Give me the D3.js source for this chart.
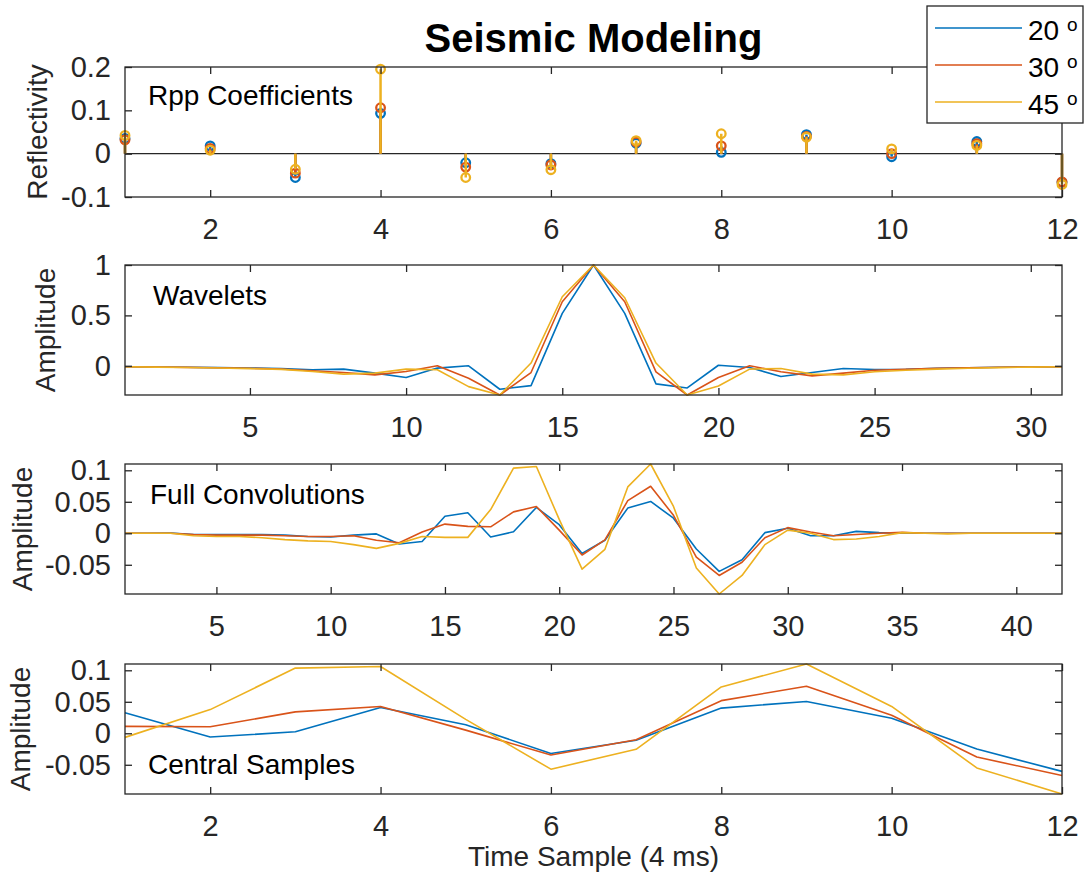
<!DOCTYPE html>
<meta charset="utf-8">
<script src="https://d3js.org/d3.v7.min.js"></script>
<style>
  body { margin: 0; background: #fff; }
  svg text { font-family: "Liberation Sans", Arial, Helvetica, sans-serif; }
</style>
<div id="chart"></div>
<script>

// incidence angles and MATLAB default colours
var angles = ["20", "30", "45"];
var colors = ["#0072BD", "#D95319", "#EDB120"];

// Rpp reflection coefficients, samples 1..12
var rpp20 = [0.035, 0.018, -0.055, 0.093, -0.021, -0.023, 0.024, 0.003, 0.044, -0.007, 0.028, -0.066];
var rpp30 = [0.032, 0.012, -0.045, 0.106, -0.031, -0.026, 0.027, 0.018, 0.040, 0.000, 0.023, -0.065];
var rpp45 = [0.042, 0.008, -0.036, 0.195, -0.055, -0.037, 0.030, 0.046, 0.038, 0.011, 0.019, -0.071];

// wavelets, samples 1..31
var wav20 = [-0.01, -0.012, -0.015, -0.018, -0.022, -0.028, -0.04, -0.033, -0.073, -0.117, -0.023, 0.0, -0.233, -0.197, 0.52, 1.0,
             0.52, -0.18, -0.22, 0.005, -0.017, -0.107, -0.067, -0.027, -0.037, -0.035, -0.025, -0.02, -0.015, -0.012, -0.01];
var wav30 = [-0.01, -0.012, -0.016, -0.02, -0.025, -0.032, -0.05, -0.067, -0.09, -0.057, 0.0, -0.123, -0.29, -0.067, 0.635, 1.0,
             0.635, -0.06, -0.29, -0.117, 0.0, -0.06, -0.1, -0.073, -0.045, -0.035, -0.025, -0.02, -0.015, -0.012, -0.01];
var wav45 = [-0.01, -0.013, -0.017, -0.022, -0.028, -0.036, -0.057, -0.083, -0.073, -0.033, -0.04, -0.207, -0.29, 0.027, 0.685, 1.0,
             0.675, 0.027, -0.29, -0.2, -0.033, -0.027, -0.083, -0.09, -0.06, -0.045, -0.033, -0.025, -0.018, -0.013, -0.01];

// full convolutions, samples 1..42
var conv20 = [0, 0, 0.0005, -0.002, -0.002, -0.002, -0.002, -0.003, -0.005, -0.006, -0.003, -0.001, -0.017, -0.013, 0.027,
              0.0325, -0.006, 0.0024, 0.041, 0.0136, -0.032, -0.011, 0.040, 0.0505, 0.024, -0.025, -0.0605,
              -0.042, 0.001, 0.008, -0.004, -0.004, 0.003, 0.001, 0, 0, 0, 0, 0, 0, 0, 0];
var conv30 = [0, 0, 0, -0.002, -0.003, -0.003, -0.003, -0.004, -0.005, -0.005, -0.004, -0.011, -0.015, 0.002, 0.0146,
              0.011, 0.0103, 0.034, 0.0426, 0.005, -0.0345, -0.0104, 0.0518, 0.0746, 0.0285, -0.0378, -0.067,
              -0.046, -0.007, 0.009, 0.002, -0.004, -0.002, 0, 0.0015, 0, 0, 0, 0, 0, 0, 0];
var conv45 = [0, 0, 0, -0.004, -0.005, -0.005, -0.007, -0.01, -0.012, -0.013, -0.018, -0.024, -0.016, -0.005, -0.0065,
              -0.0065, 0.0376, 0.1035, 0.106, 0.022, -0.057, -0.0254, 0.0736, 0.11, 0.0426, -0.055, -0.0964,
              -0.067, -0.018, 0.005, 0.0, -0.01, -0.009, -0.005, 0.001, 0, -0.001, 0, 0, 0, 0, 0];

// central samples, 1..12
var cent20 = [0.0325, -0.006, 0.0024, 0.041, 0.0136, -0.032, -0.011, 0.040, 0.0505, 0.024, -0.025, -0.0605];
var cent30 = [0.011, 0.0103, 0.034, 0.0426, 0.005, -0.0345, -0.0104, 0.0518, 0.0746, 0.0285, -0.0378, -0.067];
var cent45 = [-0.0065, 0.0376, 0.1035, 0.106, 0.022, -0.057, -0.0254, 0.0736, 0.11, 0.0426, -0.055, -0.0964];

// tick values
var rppXTicks = [2, 4, 6, 8, 10, 12];
var rppYTicks = [-0.1, 0, 0.1, 0.2];
var wavXTicks = [5, 10, 15, 20, 25, 30];
var wavYTicks = [0, 0.5, 1];
var convXTicks = [5, 10, 15, 20, 25, 30, 35, 40];
var ampYTicks = [-0.05, 0, 0.05, 0.1];
var centXTicks = [2, 4, 6, 8, 10, 12];

var W = 1086, H = 881;
var left = 125, right = 1062, ph = 130;
var axisColor = "#262626";

var svg = d3.select("#chart").append("svg")
    .attr("width", W)
    .attr("height", H);

function fmt(d) { return String(+d.toFixed(3)); }

function panel(p) {
  var x = d3.scaleLinear().domain(p.xDomain).range([left, right]);
  var y = d3.scaleLinear().domain(p.yDomain).range([p.top + ph, p.top]);
  var g = svg.append("g");

  if (p.stem) {
    // baseline at zero
    g.append("line")
      .attr("x1", left).attr("x2", right)
      .attr("y1", y(0)).attr("y2", y(0))
      .attr("stroke", axisColor).attr("stroke-width", 1.3);
    p.series.forEach(function(s, i) {
      g.selectAll(".stem" + i).data(s).enter().append("line")
        .attr("x1", function(d, j) { return x(j + 1); })
        .attr("x2", function(d, j) { return x(j + 1); })
        .attr("y1", y(0))
        .attr("y2", function(d) { return y(d); })
        .attr("stroke", colors[i]).attr("stroke-width", 2.5);
      g.selectAll(".mark" + i).data(s).enter().append("circle")
        .attr("cx", function(d, j) { return x(j + 1); })
        .attr("cy", function(d) { return y(d); })
        .attr("r", 4.3)
        .attr("fill", "none")
        .attr("stroke", colors[i]).attr("stroke-width", 2.3);
    });
  } else {
    var line = d3.line()
      .x(function(d, j) { return x(j + 1); })
      .y(function(d) { return y(d); });
    p.series.forEach(function(s, i) {
      g.append("path").datum(s)
        .attr("d", line)
        .attr("fill", "none")
        .attr("stroke", colors[i])
        .attr("stroke-width", 1.6)
        .attr("stroke-linejoin", "round");
    });
  }

  // axes, MATLAB style: ticks inside, on all four sides
  var xb = g.append("g").attr("transform", "translate(0," + (p.top + ph) + ")")
    .call(d3.axisBottom(x).tickValues(p.xTicks).tickSize(-7).tickPadding(21).tickFormat(fmt));
  var xt = g.append("g").attr("transform", "translate(0," + p.top + ")")
    .call(d3.axisTop(x).tickValues(p.xTicks).tickSize(-7).tickFormat(""));
  var yl = g.append("g").attr("transform", "translate(" + left + ",0)")
    .call(d3.axisLeft(y).tickValues(p.yTicks).tickSize(-7).tickPadding(14).tickFormat(fmt));
  var yr = g.append("g").attr("transform", "translate(" + right + ",0)")
    .call(d3.axisRight(y).tickValues(p.yTicks).tickSize(-7).tickFormat(""));
  [xb, xt, yl, yr].forEach(function(a) {
    a.select(".domain").remove();
    a.selectAll("line").attr("stroke", axisColor).attr("stroke-width", 1.3);
    a.selectAll("text").attr("fill", axisColor)
      .style("font-family", '"Liberation Sans", Arial, sans-serif')
      .style("font-size", "29px");
  });

  g.append("rect")
    .attr("x", left).attr("y", p.top)
    .attr("width", right - left).attr("height", ph)
    .attr("fill", "none").attr("stroke", axisColor).attr("stroke-width", 1.3);

  // y label
  g.append("text")
    .attr("transform", "translate(" + p.ylabelX + "," + (p.top + ph / 2) + ") rotate(-90)")
    .attr("text-anchor", "middle")
    .attr("fill", axisColor)
    .style("font-size", "28px")
    .text(p.ylabel);

  // text inside the axes
  g.append("text")
    .attr("x", p.labelX).attr("y", p.labelY)
    .attr("fill", "#000")
    .style("font-size", "28px")
    .text(p.label);
}

panel({ top: 67, xDomain: [1, 12], yDomain: [-0.1, 0.2], xTicks: rppXTicks, yTicks: rppYTicks,
        series: [rpp20, rpp30, rpp45], stem: true, ylabel: "Reflectivity", ylabelX: 47,
        label: "Rpp Coefficients", labelX: 148, labelY: 105 });

var wavExt = d3.extent(wav20.concat(wav30, wav45));
panel({ top: 265, xDomain: [1, 31], yDomain: wavExt, xTicks: wavXTicks, yTicks: wavYTicks,
        series: [wav20, wav30, wav45], ylabel: "Amplitude", ylabelX: 55,
        label: "Wavelets", labelX: 153, labelY: 305 });

var convExt = d3.extent(conv20.concat(conv30, conv45));
panel({ top: 464, xDomain: [1, 42], yDomain: convExt, xTicks: convXTicks, yTicks: ampYTicks,
        series: [conv20, conv30, conv45], ylabel: "Amplitude", ylabelX: 32,
        label: "Full Convolutions", labelX: 150, labelY: 504 });

var centExt = d3.extent(cent20.concat(cent30, cent45));
panel({ top: 664, xDomain: [1, 12], yDomain: centExt, xTicks: centXTicks, yTicks: ampYTicks,
        series: [cent20, cent30, cent45], ylabel: "Amplitude", ylabelX: 30,
        label: "Central Samples", labelX: 148, labelY: 774 });

// title
svg.append("text")
  .attr("x", (left + right) / 2).attr("y", 52)
  .attr("text-anchor", "middle")
  .attr("fill", "#000")
  .style("font-size", "40px").style("font-weight", "bold")
  .text("Seismic Modeling");

// x label
svg.append("text")
  .attr("x", (left + right) / 2).attr("y", 866)
  .attr("text-anchor", "middle")
  .attr("fill", axisColor)
  .style("font-size", "28px")
  .text("Time Sample (4 ms)");

// legend
var lg = svg.append("g");
lg.append("rect")
  .attr("x", 927).attr("y", 6).attr("width", 156).attr("height", 117)
  .attr("fill", "#fff").attr("stroke", axisColor).attr("stroke-width", 1.3);
angles.forEach(function(a, i) {
  var ly = 28 + i * 37;
  lg.append("line")
    .attr("x1", 935).attr("x2", 1022).attr("y1", ly).attr("y2", ly)
    .attr("stroke", colors[i]).attr("stroke-width", 1.6);
  var t = lg.append("text")
    .attr("x", 1028).attr("y", ly + 12)
    .attr("fill", "#000")
    .style("font-size", "28px");
  t.append("tspan").text(a + " ");
  t.append("tspan").attr("dy", -9).style("font-size", "19px").text("o");
});

</script>
